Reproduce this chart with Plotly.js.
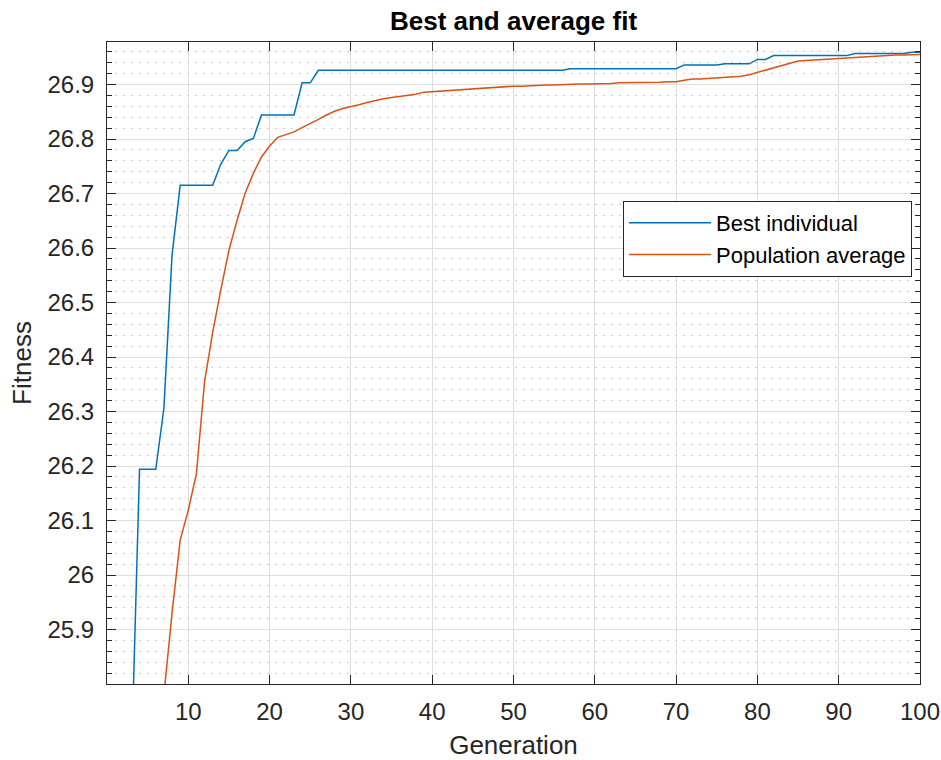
<!DOCTYPE html>
<html>
<head>
<meta charset="utf-8">
<script src="https://cdn.plot.ly/plotly-3.0.1.min.js"></script>
<style>
  html, body { margin: 0; padding: 0; background: #ffffff; }
  #chart { width: 941px; height: 760px; }
</style>
</head>
<body>
<div id="chart"></div>
<script>
// ---- data ----
const generations = Array.from({length: 100}, (_, i) => i + 1);

const bestIndividual = [
  25.30, 25.50, 25.66, 26.194, 26.194, 26.194, 26.306, 26.587, 26.715, 26.715,
  26.715, 26.715, 26.715, 26.754, 26.779, 26.779, 26.795, 26.801, 26.844, 26.844,
  26.844, 26.844, 26.844, 26.903, 26.903, 26.926, 26.926, 26.926, 26.926, 26.926,
  26.926, 26.926, 26.926, 26.926, 26.926, 26.926, 26.926, 26.926, 26.926, 26.926,
  26.926, 26.926, 26.926, 26.926, 26.926, 26.926, 26.926, 26.926, 26.926, 26.926,
  26.926, 26.926, 26.926, 26.926, 26.926, 26.926, 26.929, 26.929, 26.929, 26.929,
  26.929, 26.929, 26.929, 26.929, 26.929, 26.929, 26.929, 26.929, 26.929, 26.929,
  26.936, 26.936, 26.936, 26.936, 26.936, 26.938, 26.938, 26.938, 26.938, 26.946,
  26.946, 26.953, 26.953, 26.953, 26.953, 26.953, 26.953, 26.953, 26.953, 26.953,
  26.953, 26.957, 26.957, 26.957, 26.957, 26.957, 26.957, 26.957, 26.959, 26.959
];

const populationAverage = [
  24.90, 25.20, 25.40, 25.55, 25.65, 25.72, 25.78, 25.93, 26.064, 26.119,
  26.186, 26.355, 26.445, 26.523, 26.596, 26.651, 26.701, 26.737, 26.767, 26.787,
  26.803, 26.808, 26.813, 26.821, 26.828, 26.836, 26.844, 26.851, 26.856, 26.859,
  26.863, 26.867, 26.871, 26.874, 26.876, 26.878, 26.880, 26.882, 26.886, 26.887,
  26.888, 26.889, 26.891, 26.892, 26.893, 26.894, 26.895, 26.896, 26.896, 26.897,
  26.897, 26.898, 26.898, 26.899, 26.899, 26.900, 26.900, 26.901, 26.901, 26.901,
  26.902, 26.902, 26.903, 26.903, 26.903, 26.903, 26.904, 26.904, 26.905, 26.905,
  26.908, 26.910, 26.910, 26.911, 26.911, 26.913, 26.914, 26.915, 26.918, 26.922,
  26.927, 26.931, 26.935, 26.939, 26.943, 26.944, 26.945, 26.946, 26.946, 26.947,
  26.948, 26.949, 26.950, 26.951, 26.952, 26.953, 26.954, 26.954, 26.955, 26.955
];

const xTickVals = [10, 20, 30, 40, 50, 60, 70, 80, 90, 100];
const xTickText = ['10', '20', '30', '40', '50', '60', '70', '80', '90', '100'];
const yTickVals = [25.9, 26.0, 26.1, 26.2, 26.3, 26.4, 26.5, 26.6, 26.7, 26.8, 26.9];
const yTickText = ['25.9', '26', '26.1', '26.2', '26.3', '26.4', '26.5', '26.6', '26.7', '26.8', '26.9'];

const seriesNames = ['Best individual', 'Population average'];
const seriesColors = ['#0072BD', '#D95319'];

// ---- chart ----
const FONT = 'Liberation Sans, Arial, Helvetica, sans-serif';
const AXC = '#262626';

const traces = [
  {
    x: generations, y: bestIndividual, name: seriesNames[0],
    type: 'scatter', mode: 'lines',
    line: {color: seriesColors[0], width: 1.5}
  },
  {
    x: generations, y: populationAverage, name: seriesNames[1],
    type: 'scatter', mode: 'lines',
    line: {color: seriesColors[1], width: 1.5}
  }
];

const layout = {
  width: 941, height: 760,
  margin: {l: 107, r: 21, t: 42, b: 76, pad: 0},
  paper_bgcolor: '#ffffff', plot_bgcolor: '#ffffff',
  font: {family: FONT, color: AXC, size: 24},
  showlegend: true,
  title: {
    text: 'Best and average fit',
    font: {family: FONT, size: 26, color: '#000000', weight: 'bold'},
    x: 0.5, xref: 'paper', xanchor: 'center',
    y: 1 - 21 / 760, yref: 'container', yanchor: 'middle'
  },
  xaxis: {
    range: [0, 100],
    tickmode: 'array', tickvals: xTickVals, ticktext: xTickText,
    ticks: 'inside', ticklen: 9, tickwidth: 1, tickcolor: AXC,
    showline: true, linecolor: AXC, linewidth: 1, mirror: 'ticks',
    showgrid: true, gridcolor: '#dedede', gridwidth: 1,
    zeroline: false,
    tickfont: {family: FONT, size: 24, color: AXC},
    ticklabelstandoff: 6,
    title: {text: 'Generation', font: {family: FONT, size: 26, color: AXC}, standoff: 12}
  },
  yaxis: {
    range: [25.8, 26.978],
    tickmode: 'array', tickvals: yTickVals, ticktext: yTickText,
    ticks: 'inside', ticklen: 9, tickwidth: 1, tickcolor: AXC,
    showline: true, linecolor: AXC, linewidth: 1, mirror: 'ticks',
    showgrid: true, gridcolor: '#dedede', gridwidth: 1,
    zeroline: false,
    tickfont: {family: FONT, size: 24, color: AXC},
    ticklabelstandoff: 7,
    minor: {
      tickmode: 'linear', tick0: 25.8, dtick: 0.02,
      ticks: 'inside', ticklen: 5, tickwidth: 1, tickcolor: AXC,
      showgrid: true, gridcolor: '#cfcfcf', gridwidth: 1, griddash: '1.5px,6.5px'
    },
    title: {text: 'Fitness', font: {family: FONT, size: 26, color: AXC}, standoff: 8}
  },
  legend: {
    x: (623 - 107) / 813, y: (684 - 201) / 642,
    xanchor: 'left', yanchor: 'top',
    bgcolor: '#ffffff', bordercolor: AXC, borderwidth: 1,
    font: {family: FONT, size: 22, color: '#000000'},
    itemwidth: 82, tracegroupgap: 0
  }
};

Plotly.newPlot('chart', traces, layout, {displayModeBar: false, staticPlot: true});
</script>
</body>
</html>
